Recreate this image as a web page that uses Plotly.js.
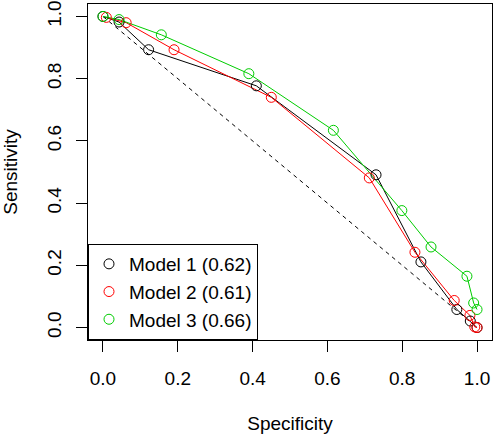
<!DOCTYPE html>
<html>
<head>
<meta charset="utf-8">
<script src="https://cdn.plot.ly/plotly-3.0.1.min.js"></script>
<style>html,body{margin:0;padding:0;background:#fff;}#chart{width:498px;height:438px;}</style>
</head>
<body>
<div id="chart"></div>
<script>
// Model 1 (black)
const m1Spec = [0.0, 0.043, 0.122, 0.41, 0.73, 0.85, 0.946, 0.982, 1.0];
const m1Sens = [1.0, 0.982, 0.893, 0.777, 0.491, 0.211, 0.058, 0.021, 0.0];
// Model 2 (red)
const m2Spec = [0.009, 0.062, 0.19, 0.45, 0.712, 0.834, 0.939, 0.981, 0.994, 1.0];
const m2Sens = [0.997, 0.98, 0.893, 0.74, 0.481, 0.242, 0.087, 0.039, 0.002, 0.0];
// Model 3 (green)
const m3Spec = [0.0, 0.043, 0.156, 0.39, 0.616, 0.799, 0.877, 0.973, 0.991, 1.0];
const m3Sens = [1.0, 0.99, 0.941, 0.816, 0.634, 0.376, 0.259, 0.165, 0.079, 0.058];
// reference diagonal
const diagSpec = [0, 1];
const diagSens = [1, 0];
const names = ["Model 1 (0.62)", "Model 2 (0.61)", "Model 3 (0.66)"];
const colors = ["#000000", "#FF0000", "#00CD00"];
const tickVals = [0, 0.2, 0.4, 0.6, 0.8, 1.0];
const tickText = ["0.0", "0.2", "0.4", "0.6", "0.8", "1.0"];

const FONT = "Liberation Sans, Arial, sans-serif";
const FS = 19;
const series = [[m1Spec, m1Sens], [m2Spec, m2Sens], [m3Spec, m3Sens]];
const traces = [];
traces.push({x: diagSpec, y: diagSens, mode: "lines", showlegend: false, hoverinfo: "skip",
  line: {color: "#000", width: 1, dash: "4px,4px"}});
series.forEach((s, i) => {
  traces.push({x: s[0], y: s[1], mode: "lines", showlegend: false,
    line: {color: colors[i], width: 1}});
});
series.forEach((s, i) => {
  traces.push({x: s[0], y: s[1], mode: "markers", name: names[i],
    marker: {symbol: "circle-open", size: 10, color: colors[i], line: {width: 1, color: colors[i]}}});
});

const axisCommon = {
  showgrid: false, zeroline: false, showline: true, mirror: true,
  linecolor: "#000", linewidth: 1, ticks: "outside", ticklen: 11, tickwidth: 1,
  tickcolor: "#000", tickfont: {family: FONT, size: FS, color: "#000"},
  range: [-0.04, 1.04], tickvals: tickVals, ticktext: tickText
};
const layout = {
  width: 498, height: 438,
  margin: {l: 88, r: 6, t: 4, b: 98},
  paper_bgcolor: "#fff", plot_bgcolor: "#fff",
  font: {family: FONT, size: FS, color: "#000"},
  xaxis: Object.assign({}, axisCommon, {
    ticklabelstandoff: 10,
    title: {text: "Specificity", font: {family: FONT, size: FS}, standoff: 28}
  }),
  yaxis: Object.assign({}, axisCommon, {
    tickangle: -90, ticklabelstandoff: 7,
    title: {text: "Sensitivity", font: {family: FONT, size: FS}, standoff: 22}
  }),
  legend: {x: 0, y: 0, xanchor: "left", yanchor: "bottom", bgcolor: "#fff",
    bordercolor: "#000", borderwidth: 1, font: {family: FONT, size: FS, color: "#000"},
    tracegroupgap: 0},
  showlegend: true
};
Plotly.newPlot("chart", traces, layout, {staticPlot: true, displayModeBar: false});
</script>
</body>
</html>
